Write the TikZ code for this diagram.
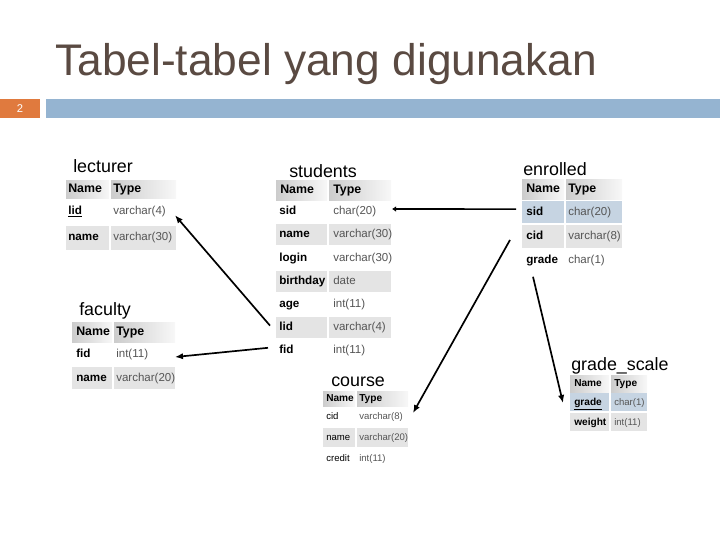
\documentclass[tikz,border=0pt]{standalone}
\usepackage{fontspec}
\setmainfont{Liberation Sans}
\usepackage{xcolor}
\usepackage{tikz}
\usetikzlibrary{arrows.meta, positioning, calc}

\definecolor{titlegray}{HTML}{5A4A42}
\definecolor{barorange}{HTML}{E07A3E}
\definecolor{barblue}{HTML}{95B4D1}
\definecolor{cellgray}{HTML}{E4E4E4}
\definecolor{cellblue}{HTML}{C6D4E2}
\definecolor{typegray}{HTML}{555555}

\begin{document}
\begin{tikzpicture}[
        x=0.025cm, y=-0.025cm,
        tabtitle/.style={anchor=base west, inner sep=0pt, font=\fontsize{12.7}{14}\selectfont},
        hdr/.style={left color=black!20, right color=black!3},
        hdrtext/.style={anchor=west, inner sep=0pt, text height=6.5pt, text depth=2pt, font=\fontsize{8.8}{10}\selectfont\bfseries},
        keytext/.style={anchor=west, inner sep=0pt, text height=6.5pt, text depth=2pt, font=\fontsize{8.3}{10}\selectfont\bfseries},
        typetext/.style={anchor=west, inner sep=0pt, text height=6.5pt, text depth=2pt, text=typegray, font=\fontsize{8.2}{10}\selectfont},
        smallkey/.style={keytext, font=\fontsize{7.2}{9}\selectfont\bfseries},
        smalltype/.style={typetext, font=\fontsize{6.8}{9}\selectfont},
        fk/.style={line width=1.2pt, -{Latex[length=2mm, width=1.6mm]}}
    ]
        \useasboundingbox (0,0) rectangle (720,540);

        % slide title and bar
        \node[anchor=base west, inner sep=0pt, text=titlegray, font=\fontsize{31.5}{36}\selectfont] (title) at (55,75) {Tabel-tabel yang digunakan};
        \fill[barorange] (0,99) rectangle (40,118);
        \fill[barblue] (46,99) rectangle (720,118);
        \node[text=white, inner sep=0pt, font=\fontsize{8}{9}\selectfont] (pagenum) at (20,108.5) {2};

        % lecturer
        \node[tabtitle] (le-title) at (73,172) {lecturer};
        \fill[hdr] (66,180) rectangle (109,198);
        \fill[hdr] (111,180) rectangle (176,198);
        \node[hdrtext] (le-hn) at (68,189) {Name};
        \node[hdrtext] (le-ht) at (113,189) {Type};
        \foreach \n/\t/\c [count=\i] in {\underline{lid}/varchar(4)/white, name/varchar(30)/cellgray} {
            \fill[\c] (66,{198+(\i-1)*26.5+1}) rectangle (109,{198+\i*26.5-1});
            \fill[\c] (111,{198+(\i-1)*26.5+1}) rectangle (176,{198+\i*26.5-1});
            \node[keytext] (le-n\i) at (68,{198+(\i-0.5)*26.5}) {\n};
            \node[typetext] (le-t\i) at (113,{198+(\i-0.5)*26.5}) {\t};
        }

        % students
        \node[tabtitle] (st-title) at (289,177) {students};
        \fill[hdr] (276,180) rectangle (327,200);
        \fill[hdr] (329,180) rectangle (391,200);
        \node[hdrtext] (st-hn) at (280,190) {Name};
        \node[hdrtext] (st-ht) at (333,190) {Type};
        \foreach \n/\t/\c [count=\i] in {sid/char(20)/white, name/varchar(30)/cellgray, login/varchar(30)/white,
                birthday/date/cellgray, age/int(11)/white, lid/varchar(4)/cellgray, fid/int(11)/white} {
            \fill[\c] (276,{200+(\i-1)*23.2+1}) rectangle (327,{200+\i*23.2-1});
            \fill[\c] (329,{200+(\i-1)*23.2+1}) rectangle (391,{200+\i*23.2-1});
            \node[keytext] (st-n\i) at (279,{200+(\i-0.5)*23.2}) {\n};
            \node[typetext] (st-t\i) at (333,{200+(\i-0.5)*23.2}) {\t};
        }

        % enrolled
        \node[tabtitle] (en-title) at (523,175) {enrolled};
        \fill[hdr] (522,179) rectangle (564,199);
        \fill[hdr] (566,179) rectangle (622,199);
        \node[hdrtext] (en-hn) at (526,189) {Name};
        \node[hdrtext] (en-ht) at (568,189) {Type};
        \foreach \n/\t/\c [count=\i] in {sid/char(20)/cellblue, cid/varchar(8)/cellgray, grade/char(1)/white} {
            \fill[\c] (522,{200+(\i-1)*24.3+1}) rectangle (564,{200+\i*24.3-1});
            \fill[\c] (566,{200+(\i-1)*24.3+1}) rectangle (622,{200+\i*24.3-1});
            \node[keytext] (en-n\i) at (526,{200+(\i-0.5)*24.3}) {\n};
            \node[typetext] (en-t\i) at (568,{200+(\i-0.5)*24.3}) {\t};
        }

        % faculty
        \node[tabtitle] (fa-title) at (79,315) {faculty};
        \fill[hdr] (72,322) rectangle (112,342);
        \fill[hdr] (114,322) rectangle (175,342);
        \node[hdrtext] (fa-hn) at (76,332) {Name};
        \node[hdrtext] (fa-ht) at (116,332) {Type};
        \foreach \n/\t/\c [count=\i] in {fid/int(11)/white, name/varchar(20)/cellgray} {
            \fill[\c] (72,{342+(\i-1)*24+1}) rectangle (112,{342+\i*24-1});
            \fill[\c] (114,{342+(\i-1)*24+1}) rectangle (175,{342+\i*24-1});
            \node[keytext] (fa-n\i) at (76,{342+(\i-0.5)*24}) {\n};
            \node[typetext] (fa-t\i) at (116,{342+(\i-0.5)*24}) {\t};
        }

        % course
        \node[tabtitle] (co-title) at (331,386) {course};
        \fill[hdr] (323,391) rectangle (355,406);
        \fill[hdr] (357,391) rectangle (408,406);
        \node[smallkey] (co-hn) at (326,398.5) {Name};
        \node[smallkey] (co-ht) at (359,398.5) {Type};
        \foreach \n/\t/\c [count=\i] in {cid/varchar(8)/white, name/varchar(20)/cellgray, credit/int(11)/white} {
            \fill[\c] (323,{406+(\i-1)*21+1}) rectangle (355,{406+\i*21-1});
            \fill[\c] (357,{406+(\i-1)*21+1}) rectangle (408,{406+\i*21-1});
            \node[smalltype, text=black] (co-n\i) at (326,{406+(\i-0.5)*21}) {\n};
            \node[smalltype] (co-t\i) at (359,{406+(\i-0.5)*21}) {\t};
        }

        % grade_scale
        \node[tabtitle] (gs-title) at (571,370) {grade\_scale};
        \fill[hdr] (570,375) rectangle (609,392);
        \fill[hdr] (611,375) rectangle (647,392);
        \node[smallkey] (gs-hn) at (574,383.5) {Name};
        \node[smallkey] (gs-ht) at (614,383.5) {Type};
        \foreach \n/\t/\c [count=\i] in {\underline{grade}/char(1)/cellblue, weight/int(11)/cellgray} {
            \fill[\c] (570,{392+(\i-1)*20+1}) rectangle (609,{392+\i*20-1});
            \fill[\c] (611,{392+(\i-1)*20+1}) rectangle (647,{392+\i*20-1});
            \node[smallkey] (gs-n\i) at (574,{392+(\i-0.5)*20}) {\n};
            \node[smalltype] (gs-t\i) at (614,{392+(\i-0.5)*20}) {\t};
        }

        % foreign keys
        \draw[fk] ([shift={(-9,-2)}]st-n6.west) -- ([shift={(62,4)}]le-t1.west);
        \draw[fk] ([shift={(-11,-3)}]st-n7.west) -- ([shift={(59,3)}]fa-t1.west);
        \draw[line width=1.2pt, -{Latex[length=1mm, width=1.4mm]}] ([shift={(-10,-3)}]en-n1.west) -- ([shift={(59,-2.6)}]st-t1.west);
        \draw[fk] ([shift={(-16,3.5)}]en-n2.west) -- ([shift={(54,-3.5)}]co-t1.west);
        \draw[fk] ([shift={(7,16)}]en-n3.west) -- ([shift={(-11,1)}]gs-n1.west);

    \end{tikzpicture}
\end{document}
